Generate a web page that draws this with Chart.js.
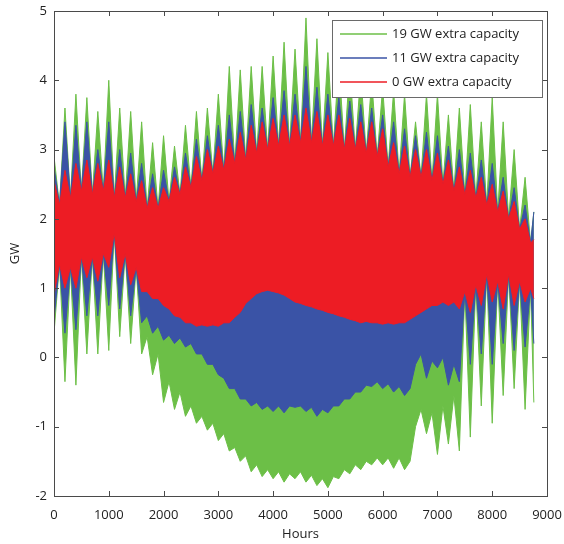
<!DOCTYPE html>
<html>
<head>
<meta charset="utf-8">
<script src="https://cdn.jsdelivr.net/npm/chart.js@4.4.1/dist/chart.umd.min.js"></script>
<style>
    html, body { margin: 0; padding: 0; background: #ffffff; }
</style>
</head>
<body>
<canvas id="graficoGW" width="564" height="544"></canvas>
<script>
/* dados: envelope de cada serie a cada 100 horas */
const horas = [
    0, 100, 200, 300, 400, 500, 600, 700, 800, 900,
    1000, 1100, 1200, 1300, 1400, 1500, 1600, 1700, 1800, 1900,
    2000, 2100, 2200, 2300, 2400, 2500, 2600, 2700, 2800, 2900,
    3000, 3100, 3200, 3300, 3400, 3500, 3600, 3700, 3800, 3900,
    4000, 4100, 4200, 4300, 4400, 4500, 4600, 4700, 4800, 4900,
    5000, 5100, 5200, 5300, 5400, 5500, 5600, 5700, 5800, 5900,
    6000, 6100, 6200, 6300, 6400, 6500, 6600, 6700, 6800, 6900,
    7000, 7100, 7200, 7300, 7400, 7500, 7600, 7700, 7800, 7900,
    8000, 8100, 8200, 8300, 8400, 8500, 8600, 8700, 8760
];

// 0 GW extra capacity (vermelho)
const vermelhoMax = [
    2.55, 2.2, 2.7, 2.3, 2.8, 2.4, 2.85, 2.35, 2.8, 2.4,
    2.85, 2.3, 2.75, 2.3, 2.65, 2.25, 2.55, 2.15, 2.45, 2.15,
    2.45, 2.25, 2.6, 2.35, 2.75, 2.45, 2.9, 2.55, 3.0, 2.65,
    3.05, 2.7, 3.15, 2.8, 3.25, 2.85, 3.35, 2.95, 3.4, 3.0,
    3.45, 3.05, 3.5, 3.05, 3.5, 3.1, 3.6, 3.1, 3.55, 3.05,
    3.5, 3.05, 3.5, 3.0, 3.45, 3.0, 3.4, 2.95, 3.4, 2.9,
    3.3, 2.75, 3.1, 2.65, 3.05, 2.6, 3.0, 2.6, 3.0, 2.55,
    2.95, 2.5, 2.85, 2.4, 2.75, 2.35, 2.7, 2.3, 2.6, 2.2,
    2.5, 2.1, 2.4, 2.0, 2.25, 1.85, 2.0, 1.65, 1.7
];
const vermelhoMin = [
    0.9, 1.35, 1.0, 1.3, 1.0, 1.45, 1.15, 1.45, 1.1, 1.5,
    1.3, 1.8, 1.15, 1.5, 1.05, 1.3, 0.95, 0.95, 0.85, 0.85,
    0.75, 0.7, 0.6, 0.58, 0.5, 0.5, 0.45, 0.47, 0.45, 0.47,
    0.45, 0.5, 0.5, 0.58, 0.65, 0.78, 0.85, 0.92, 0.95, 0.97,
    0.95, 0.93, 0.9, 0.85, 0.8, 0.78, 0.75, 0.73, 0.7, 0.68,
    0.65, 0.63, 0.6, 0.58, 0.55, 0.53, 0.5, 0.52, 0.5, 0.5,
    0.48, 0.5, 0.48, 0.5, 0.5, 0.55, 0.6, 0.65, 0.7, 0.75,
    0.75, 0.8, 0.75, 0.8, 0.7, 0.95, 0.65, 1.05, 0.75, 1.2,
    0.8, 1.1, 0.7, 1.2, 0.75, 1.1, 0.8, 1.0, 0.85
];

// 11 GW extra capacity (azul)
const azulMax = [
    2.75, 2.2, 3.4, 2.3, 3.35, 2.4, 3.4, 2.35, 3.0, 2.4,
    3.4, 2.3, 3.0, 2.3, 2.95, 2.25, 2.8, 2.15, 2.65, 2.15,
    2.7, 2.25, 2.75, 2.35, 2.95, 2.45, 3.15, 2.55, 3.2, 2.65,
    3.35, 2.7, 3.5, 2.8, 3.55, 2.85, 3.65, 2.95, 3.6, 3.0,
    3.75, 3.05, 3.85, 3.05, 3.8, 3.1, 4.2, 3.1, 3.9, 3.05,
    3.8, 3.05, 3.75, 3.0, 3.7, 3.0, 3.65, 2.95, 3.6, 2.9,
    3.5, 2.75, 3.4, 2.65, 3.3, 2.6, 3.2, 2.6, 3.25, 2.55,
    3.2, 2.5, 3.05, 2.4, 3.0, 2.35, 2.95, 2.3, 2.85, 2.2,
    2.8, 2.1, 2.6, 2.0, 2.45, 1.85, 2.2, 1.65, 2.1
];
const azulMin = [
    0.55, 1.35, 0.35, 1.3, 0.4, 1.45, 0.6, 1.45, 0.6, 1.5,
    0.75, 1.8, 0.7, 1.5, 0.6, 1.3, 0.5, 0.6, 0.35, 0.45,
    0.25, 0.32, 0.2, 0.28, 0.15, 0.2, 0.05, 0.05, -0.1, -0.1,
    -0.25, -0.3, -0.45, -0.45, -0.6, -0.6, -0.7, -0.65, -0.75, -0.7,
    -0.78, -0.7, -0.8, -0.7, -0.72, -0.7, -0.78, -0.72, -0.85, -0.75,
    -0.8, -0.7, -0.7, -0.6, -0.6, -0.5, -0.5, -0.4, -0.42, -0.35,
    -0.45, -0.38, -0.5, -0.42, -0.55, -0.45, -0.1, 0.05, -0.3, -0.05,
    -0.15, 0.0, -0.4, -0.1, -0.35, 0.95, -0.1, 1.05, 0.05, 1.2,
    -0.1, 1.1, 0.2, 1.2, 0.1, 1.1, 0.15, 1.0, 0.2
];

// 19 GW extra capacity (verde)
const verdeMax = [
    2.9, 2.2, 3.6, 2.3, 3.8, 2.4, 3.75, 2.35, 3.55, 2.4,
    4.0, 2.3, 3.6, 2.3, 3.55, 2.25, 3.4, 2.15, 3.1, 2.15,
    3.2, 2.25, 3.05, 2.35, 3.35, 2.45, 3.55, 2.55, 3.6, 2.65,
    3.8, 2.7, 4.2, 2.8, 4.15, 2.85, 4.2, 2.95, 4.2, 3.0,
    4.35, 3.05, 4.55, 3.05, 4.45, 3.1, 4.9, 3.1, 4.6, 3.05,
    4.4, 3.05, 4.3, 3.0, 4.2, 3.0, 4.1, 2.95, 4.0, 2.9,
    3.9, 2.75, 3.85, 2.65, 3.8, 2.6, 3.4, 2.6, 3.8, 2.55,
    3.8, 2.5, 3.5, 2.4, 3.6, 2.35, 3.65, 2.3, 3.4, 2.2,
    3.75, 2.1, 3.4, 2.0, 3.0, 1.85, 2.6, 1.65, 2.1
];
const verdeMin = [
    0.35, 1.35, -0.35, 1.3, -0.4, 1.45, 0.05, 1.45, 0.05, 1.5,
    0.1, 1.8, 0.3, 1.5, 0.2, 1.3, 0.05, 0.3, -0.25, 0.05,
    -0.65, -0.35, -0.75, -0.5, -0.85, -0.7, -0.95, -0.85, -1.05, -0.95,
    -1.2, -1.1, -1.35, -1.3, -1.5, -1.42, -1.65, -1.55, -1.72, -1.62,
    -1.75, -1.65, -1.8, -1.68, -1.75, -1.65, -1.8, -1.7, -1.85, -1.75,
    -1.88, -1.72, -1.75, -1.62, -1.68, -1.55, -1.62, -1.5, -1.55, -1.45,
    -1.55, -1.45, -1.6, -1.45, -1.62, -1.5, -1.0, -0.75, -1.1, -0.8,
    -1.4, -0.7, -1.25, -0.55, -1.35, 0.95, -1.15, 1.05, -0.7, 1.2,
    -0.95, 1.1, -0.55, 1.2, -0.45, 1.1, -0.75, 1.0, -0.65
];

const nomesLegenda = ['19 GW extra capacity', '11 GW extra capacity', '0 GW extra capacity'];
const ticksX = [0, 1000, 2000, 3000, 4000, 5000, 6000, 7000, 8000, 9000];
const ticksY = [-2, -1, 0, 1, 2, 3, 4, 5];

const VERDE = '#6cbf47';
const AZUL = '#3a53a6';
const VERMELHO = '#ed1c24';
const FONTE = '"Open Sans", Lato, sans-serif';

// monta os pontos {x, y} a partir das horas
function pontos(valores) {
    let lista = [];
    for (let i = 0; i < horas.length; i++) {
        lista.push({ x: horas[i], y: valores[i] });
    }
    return lista;
}

function faixa(valores, cor, ordem, preencher) {
    return {
        data: pontos(valores),
        borderColor: cor,
        backgroundColor: cor,
        borderWidth: 1,
        pointRadius: 0,
        tension: 0,
        order: ordem,
        fill: preencher
    };
}

// moldura estilo matlab + legenda dentro do grafico
const moldura = {
    id: 'moldura',
    afterDraw(chart) {
        const ctx = chart.ctx;
        const a = chart.chartArea;
        const x = chart.scales.x;
        const y = chart.scales.y;
        ctx.save();
        ctx.strokeStyle = '#4a4a4a';
        ctx.lineWidth = 1;
        ctx.strokeRect(Math.round(a.left) + 0.5, Math.round(a.top) + 0.5,
            Math.round(a.right - a.left), Math.round(a.bottom - a.top));
        ctx.beginPath();
        ticksX.forEach(function (v) {
            const px = Math.round(x.getPixelForValue(v)) + 0.5;
            ctx.moveTo(px, a.bottom); ctx.lineTo(px, a.bottom - 5);
            ctx.moveTo(px, a.top); ctx.lineTo(px, a.top + 5);
        });
        ticksY.forEach(function (v) {
            const py = Math.round(y.getPixelForValue(v)) + 0.5;
            ctx.moveTo(a.left, py); ctx.lineTo(a.left + 5, py);
            ctx.moveTo(a.right, py); ctx.lineTo(a.right - 5, py);
        });
        ctx.stroke();

        // legenda
        const lx = 332, ly = 20, lw = 210, lh = 77;
        ctx.fillStyle = '#ffffff';
        ctx.fillRect(lx, ly, lw, lh);
        ctx.strokeStyle = '#6a6a6a';
        ctx.strokeRect(lx + 0.5, ly + 0.5, lw, lh);
        const cores = [VERDE, AZUL, VERMELHO];
        ctx.font = '13px ' + FONTE;
        ctx.textBaseline = 'middle';
        ctx.textAlign = 'left';
        for (let i = 0; i < nomesLegenda.length; i++) {
            const yy = ly + 14 + i * 24;
            ctx.strokeStyle = cores[i];
            ctx.lineWidth = 1.5;
            ctx.beginPath();
            ctx.moveTo(lx + 8, yy); ctx.lineTo(lx + 55, yy);
            ctx.stroke();
            ctx.fillStyle = '#222222';
            ctx.fillText(nomesLegenda[i], lx + 60, yy);
        }
        ctx.restore();
    }
};

const config = {
    type: 'line',
    data: {
        datasets: [
            faixa(vermelhoMin, VERMELHO, 0, false),
            faixa(vermelhoMax, VERMELHO, 0, '-1'),
            faixa(azulMin, AZUL, 1, false),
            faixa(azulMax, AZUL, 1, '-1'),
            faixa(verdeMin, VERDE, 2, false),
            faixa(verdeMax, VERDE, 2, '-1')
        ]
    },
    options: {
        responsive: false,
        animation: false,
        layout: { padding: { top: 11, right: 17, left: 0, bottom: 0 } },
        scales: {
            x: {
                type: 'linear',
                min: 0,
                max: 9000,
                afterBuildTicks: function (s) { s.ticks = ticksX.map(v => ({ value: v })); },
                afterFit: function (s) { s.height = 48; s.paddingLeft = 0; s.paddingRight = 0; },
                grid: { display: false, drawTicks: false },
                border: { display: false },
                ticks: {
                    color: '#222222', padding: 11, font: { family: FONTE, size: 13 },
                    callback: function (v) { return String(v); }
                },
                title: { display: true, text: 'Hours', color: '#222222', padding: { top: 0, bottom: 2 }, font: { family: FONTE, size: 13 } }
            },
            y: {
                min: -2,
                max: 5,
                afterBuildTicks: function (s) { s.ticks = ticksY.map(v => ({ value: v })); },
                afterFit: function (s) { s.width = 54; s.paddingTop = 0; s.paddingBottom = 0; },
                grid: { display: false, drawTicks: false },
                border: { display: false },
                ticks: {
                    color: '#222222', padding: 7, font: { family: FONTE, size: 13 },
                    callback: function (v) { return String(v); }
                },
                title: { display: true, text: 'GW', color: '#222222', padding: { top: 7, bottom: 0 }, font: { family: FONTE, size: 13 } }
            }
        },
        plugins: {
            legend: { display: false },
            tooltip: { enabled: false },
            filler: { propagate: false }
        }
    },
    plugins: [moldura]
};

new Chart(document.getElementById('graficoGW').getContext('2d'), config);
</script>
</body>
</html>
